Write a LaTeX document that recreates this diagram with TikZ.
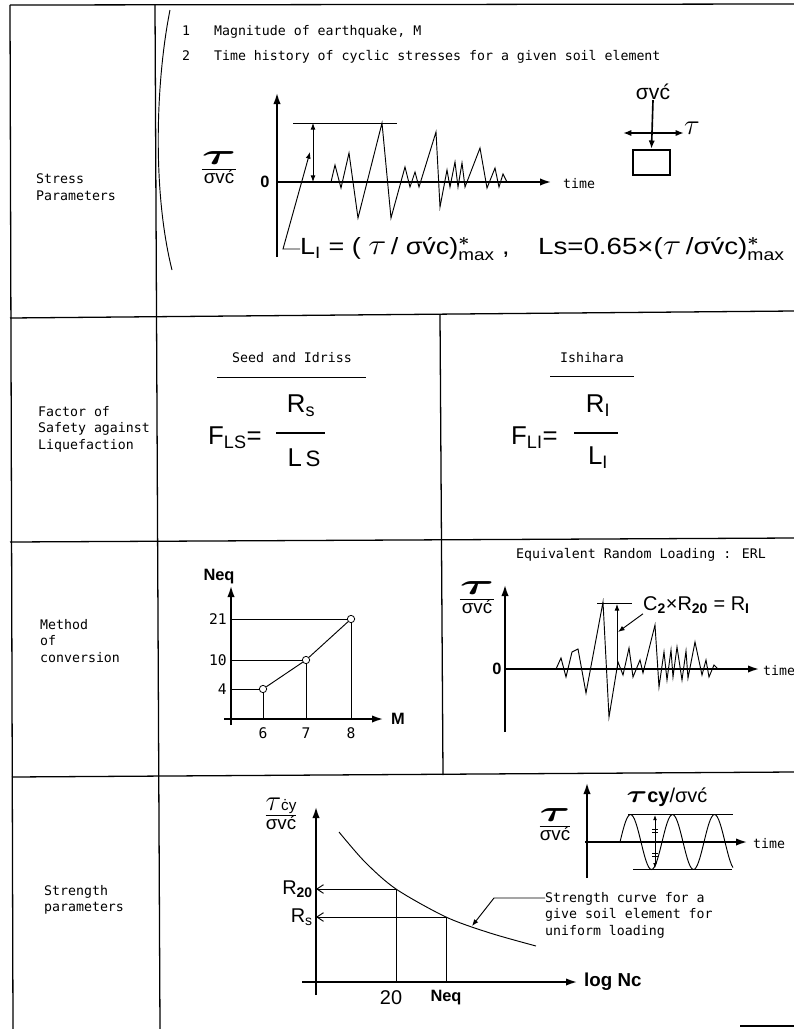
\documentclass[tikz,border=0pt]{standalone}
\usepackage{amsmath}
\usepackage{graphicx}
\usepackage{fontspec}
\setmainfont{Liberation Sans}
\newfontfamily\typefont{DejaVu Sans Mono}
\usetikzlibrary{arrows.meta,positioning}
\setlength{\arrayrulewidth}{0.8pt}
\newcommand{\bigtau}[2][1.3]{{\fontsize{#2}{#2}\selectfont\scalebox{#1}[1]{$\boldsymbol{\tau}$}}}
\newcommand{\thintau}[1][34]{{\fontsize{#1}{#1}\selectfont$\tau$}}
\newcommand{\fracbar}[2]{\begin{tabular}{@{}c@{}}#1\\\hline\rule{0pt}{1.05em}#2\end{tabular}}
\newcommand{\sigvc}{{\fontsize{16}{16}\selectfont σvć}}

\begin{document}
\begin{tikzpicture}[x=0.03cm,y=-0.03cm]
  \tikzstyle{frame}=[line width=1.1pt]
  \tikzstyle{axis}=[line width=2.2pt,-{Latex[length=3.6mm,width=2.2mm]}]
  \tikzstyle{fine}=[line width=0.8pt]
  \tikzstyle{mono}=[font=\typefont\fontsize{11.3}{14}\selectfont,inner sep=0pt,align=left]
  \tikzstyle{tick}=[font=\typefont\fontsize{12.5}{14}\selectfont,inner sep=0pt]
  \tikzstyle{formula}=[font=\fontsize{17}{19}\selectfont,inner sep=0pt]
  \tikzstyle{big}=[font=\fontsize{22}{24}\selectfont,inner sep=0pt]
  \tikzstyle{heavy}=[font=\bfseries\fontsize{14}{16}\selectfont,inner sep=0pt]
  \tikzstyle{ring}=[circle,draw,fill=white,line width=0.7pt,minimum size=2.2mm,inner sep=0pt,path picture={\fill (path picture bounding box.center) circle (0.35mm);}]
  \useasboundingbox (0,0) rectangle (794,1029);

  \draw[frame] (10,5) -- (794,4);
  \draw[frame] (10,5) -- (13,1029);
  \draw[frame] (155,5) -- (160,1029);
  \draw[frame] (10,318) -- (794,311);
  \draw[frame] (10,542) -- (794,538);
  \draw[frame] (12,777) -- (794,772);
  \draw[frame] (440,315) -- (443,775);
  \draw[frame] (740,1026) -- (794,1026);

  \node[mono,anchor=west] (stress) at (36,187) {Stress\\Parameters};
  \node[mono,anchor=west] (safety) at (38,429) {Factor of\\Safety against\\Liquefaction};
  \node[mono,anchor=west] (method) at (40,641) {Method\\of\\conversion};
  \node[mono,anchor=west] (strength) at (44,900) {Strength\\parameters};

  \draw[fine] (170,10) .. controls (156,80) and (152,190) .. (172,270);
  \node[mono,anchor=west] (item1) at (182,32) {1\ \ \ Magnitude of earthquake, M};
  \node[mono,anchor=west] (item2) at (182,57) {2\ \ \ Time history of cyclic stresses for a given soil element};

  \draw[axis] (277,257) -- (277,92);
  \draw[axis] (277,182) -- (552,182);
  \node[mono,anchor=west] (time1) at (563,184) {time};
  \node[heavy] (zero1) at (265,182) {0};
  \node (frac1) at (219,170) {\fracbar{\bigtau[1.8]{24}}{\sigvc}};
  \draw[fine] (293,123) -- (397,123);
  \draw[fine,{Latex[length=2mm]}-{Latex[length=2mm]}] (313,123) -- (313,182);
  \draw[fine] plot coordinates {(331,182) (335,165) (341,188) (349,153) (358,218) (382,123) (391,218) (405,167) (410,187) (415,172) (419,187) (436,132) (440,207) (447,170) (450,187) (455,162) (458,187) (462,163) (465,187) (480,148) (487,188) (495,168) (499,187) (503,174) (507,182)};
  \node[formula,font=\fontsize{20}{22}\selectfont,anchor=west] (li) at (300,249) {\scalebox{1.15}[1]{L\textsubscript{I} = ( \thintau\,/ σv́c)$^{\boldsymbol{*}}_{\text{max}}$ ,}};
  \node[formula,font=\fontsize{20}{22}\selectfont,anchor=west] (lsf) at (538,249) {\scalebox{1.18}[1]{Ls=0.65×(\thintau\,/σv́c)$^{\boldsymbol{*}}_{\text{max}}$}};
  \coordinate (hook) at (283,249);
  \coordinate (amp) at (310,152);
  \draw[fine,-{Latex[length=2mm]}] (li.west) -- (hook) -- (amp);

  \node[formula,font=\fontsize{18}{18}\selectfont] (sv) at (653,92) {σvć};
  \node[draw,line width=2pt,minimum width=1.1cm,minimum height=0.75cm,inner sep=0pt] (elem) at (651.5,162.5) {};
  \draw[line width=1.4pt,-{Latex[length=2.5mm]}] (sv.south) -- (elem.north);
  \node[formula,anchor=west] (tau1) at (684,128) {\thintau[30]};
  \coordinate (shear) at (623,133);
  \draw[line width=1.4pt,{Latex[length=2.5mm]}-{Latex[length=2.5mm]}] (shear) -- (tau1.west |- shear);

  \node[mono] (seed) at (292,358) {Seed and Idriss};
  \draw[fine] (217,377) -- (366,377);
  \node[mono] (ishi) at (592,358) {Ishihara};
  \draw[fine] (550,376) -- (634,376);
  \node[big,anchor=west] (fls) at (208,438) {F\textsubscript{LS}=};
  \node[big] (rs) at (301,406) {R\textsubscript{s}};
  \node[big] (ls) at (304,458) {L{\fontsize{19}{19}\selectfont\,S}};
  \draw[line width=1.4pt] (276,433) -- (325,433);
  \node[big,anchor=west] (fli) at (511,438) {F\textsubscript{LI}=};
  \node[big] (ri) at (598,406) {R\textsubscript{I}};
  \node[big] (lli) at (598,458) {L\textsubscript{I}};
  \draw[line width=1.4pt] (574,433) -- (618,433);

  \coordinate (o2) at (231,719);
  \draw[axis] (231,725) -- (231,585);
  \draw[axis] (224,719) -- (384,719);
  \node[heavy] (neq1) at (219,577) {Neq};
  \node[heavy,anchor=west] (mlab) at (391,719) {M};
  \node[ring] (p6) at (263,689) {};
  \node[ring] (p7) at (306,660) {};
  \node[ring] (p8) at (351,619) {};
  \draw[fine] (p6) -- (p7) -- (p8);
  \draw[fine] (o2 |- p6) -- (p6) -- (p6 |- o2);
  \draw[fine] (o2 |- p7) -- (p7) -- (p7 |- o2);
  \draw[fine] (o2 |- p8) -- (p8) -- (p8 |- o2);
  \node[tick] (m6) at (263,733) {6};
  \node[tick] (m7) at (306,733) {7};
  \node[tick] (m8) at (351,733) {8};
  \node[tick,anchor=east] (n4) at (227,689) {4};
  \node[tick,anchor=east] (n10) at (227,660) {10};
  \node[tick,anchor=east] (n21) at (227,619) {21};

  \node[mono] (erl) at (641,555) {Equivalent Random Loading : ERL};
  \node (frac2) at (477,600) {\fracbar{\bigtau[1.8]{24}}{\sigvc}};
  \draw[axis] (505,732) -- (505,584);
  \draw[axis] (505,669) -- (760,669);
  \node[heavy] (zero3) at (497,669) {0};
  \node[mono,anchor=west] (time3) at (763,671) {time};
  \draw[fine] (597,603) -- (632,603);
  \draw[fine,-{Latex[length=2mm]}] (617,669) -- (617,604);
  \node[formula,anchor=west] (c2) at (643,605) {C\textsubscript{\textbf{2}}×R\textsubscript{\textbf{20}} = R\textsubscript{\textbf{I}}};
  \coordinate (c2tip) at (618,632);
  \draw[fine,-{Latex[length=2mm]}] (c2.south west) -- (c2tip);
  \draw[fine] plot coordinates {(556,669) (561,658) (566,677) (572,652) (578,649) (586,693) (603,602) (609,717) (618,662) (623,675) (629,648) (633,677) (640,660) (643,673) (655,625) (659,687) (664,652) (667,680) (671,650) (673,677) (677,647) (682,680) (686,651) (688,678) (695,642) (702,675) (706,660) (709,677) (714,665) (718,669)};

  \node (frac3) at (281,816) {\fracbar{\thintau[26]{\fontsize{13}{13}\selectfont ċy}}{\sigvc}};
  \coordinate (o4) at (316,982);
  \draw[axis] (316,995) -- (316,806);
  \draw[axis] (302,982) -- (578,982);
  \node[heavy,font=\bfseries\fontsize{16}{18}\selectfont,anchor=west] (lognc) at (584,982) {log Nc};
  \draw[fine] plot[smooth] coordinates {(339,832) (365,862) (396,889) (446,917) (490,933) (536,946)};
  \coordinate (c20) at (396,889);
  \coordinate (ceq) at (446,917);
  \draw[fine,-{Straight Barb[length=2mm,width=2.6mm]}] (c20) -- (o4 |- c20);
  \draw[fine] (c20) -- (c20 |- o4);
  \draw[fine,-{Straight Barb[length=2mm,width=2.6mm]}] (ceq) -- (o4 |- ceq);
  \draw[fine] (ceq) -- (ceq |- o4);
  \node[formula,anchor=east] (r20) at (313,889) {R\textsubscript{\textbf{20}}};
  \node[formula,anchor=east] (rslab) at (313,917) {R\textsubscript{s}};
  \node[formula] (n20) at (391,998) {20};
  \node[heavy] (neq2) at (446,998) {Neq};
  \node[mono,anchor=west] (scurve) at (545,915) {Strength curve for a\\give soil element for\\uniform loading};
  \coordinate (sbend) at (494,898);
  \coordinate (stip) at (472,926);
  \draw[fine,-{Latex[length=2mm]}] (scurve.west |- sbend) -- (sbend) -- (stip);

  \node (frac4) at (555,827) {\fracbar{\bigtau[1.6]{26}}{\sigvc}};
  \draw[axis] (587,878) -- (587,782);
  \draw[axis] (585,842) -- (748,842);
  \node[mono,anchor=west] (time4) at (753,844) {time};
  \draw[fine] (628,814) -- (733,814);
  \draw[fine] (633,869) -- (732,869);
  \draw[fine,domain=620:733,samples=80] plot (\x,{842-27.5*sin((\x-620)/42*360)});
  \draw[fine,{Latex[length=1.5mm]}-{Latex[length=1.5mm]}] (655,815) -- (655,868);
  \draw[fine] (652,829) -- (658,829) (652,832) -- (658,832) (652,853) -- (658,853) (652,856) -- (658,856);
  \node[formula] (tcy) at (667,797) {\bigtau[1.3]{22}\textbf{cy}/σvć};
\end{tikzpicture}
\end{document}
